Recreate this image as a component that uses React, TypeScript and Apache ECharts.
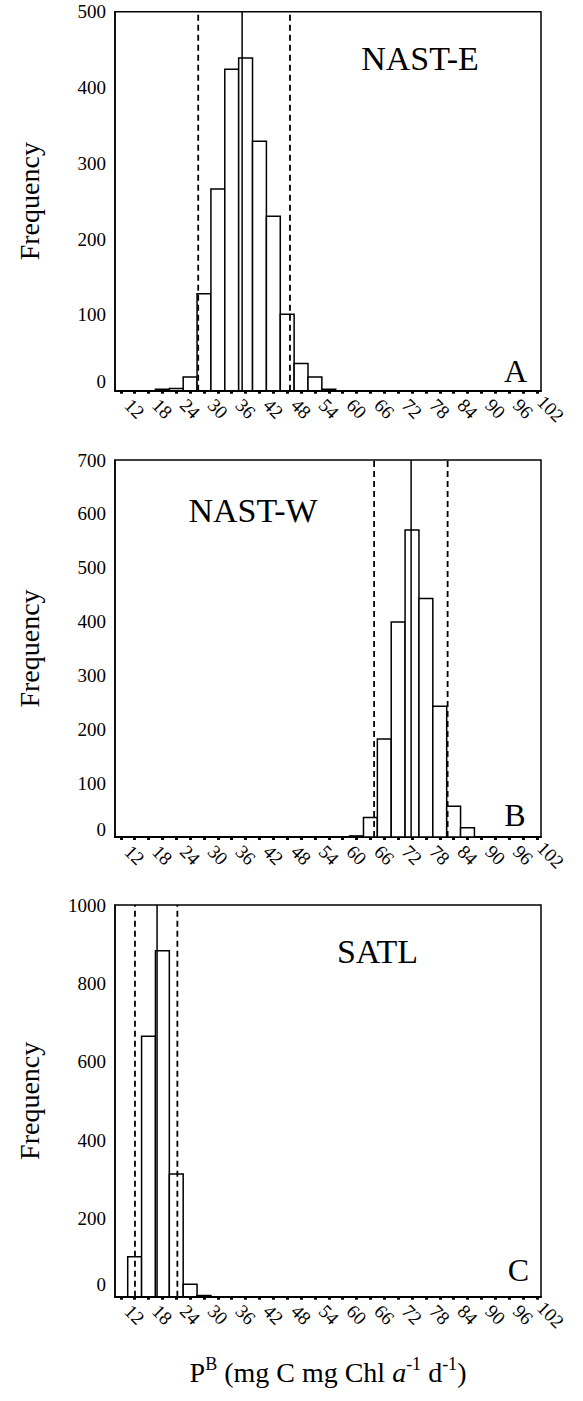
import React, { useEffect, useRef } from 'react';
import * as echarts from 'echarts';

const FONT = 'Liberation Serif';

// ---- shared x axis (bin centres, bins 3 units wide) ----
const BIN_WIDTH = 3;
const X_TICKS = [9, 12, 15, 18, 21, 24, 27, 30, 33, 36, 39, 42, 45, 48, 51, 54, 57, 60, 63, 66, 69, 72, 75, 78, 81, 84, 87, 90, 93, 96, 99];
const X_LABELS = [12, 18, 24, 30, 36, 42, 48, 54, 60, 66, 72, 78, 84, 90, 96, 102];

// ---- Panel A : NAST-E ----
const A_BINS = [18, 21, 24, 27, 30, 33, 36, 39, 42, 45, 48, 51, 54];
const A_COUNTS = [2, 3, 18, 128, 266, 424, 439, 329, 230, 101, 36, 18, 2];
const A_MEAN = 35.25;
const A_LIMITS = [25.75, 45.6];
const A_YTICKS = [0, 100, 200, 300, 400, 500];

// ---- Panel B : NAST-W ----
const B_BINS = [60, 63, 66, 69, 72, 75, 78, 81, 84];
const B_COUNTS = [2, 36, 182, 399, 570, 443, 243, 57, 17];
const B_MEAN = 71.8;
const B_LIMITS = [63.8, 79.7];
const B_YTICKS = [0, 100, 200, 300, 400, 500, 600, 700];

// ---- Panel C : SATL ----
const C_BINS = [12, 15, 18, 21, 24, 27];
const C_COUNTS = [102, 665, 883, 313, 32, 3];
const C_MEAN = 16.85;
const C_LIMITS = [12.07, 21.24];
const C_YTICKS = [0, 200, 400, 600, 800, 1000];

// ---- layout ----
const X_MIN = 7.75;
const X_MAX = 99.9;
const LABEL_X_MAX = 104;
const LEFT = 115;
const WIDTH = 426;

export default function App() {
  const ref = useRef<HTMLDivElement>(null);

  useEffect(() => {
    document.body.style.margin = '0';
    const chart = echarts.init(ref.current!, undefined, { renderer: 'svg' });

    const panels = [
      { bins: A_BINS, counts: A_COUNTS, mean: A_MEAN, limits: A_LIMITS, yTicks: A_YTICKS, name: 'NAST-E', letter: 'A', top: 11.7, height: 379, zeroShift: 9, titlePos: [420, 58.5], letterPos: [515.5, 371] },
      { bins: B_BINS, counts: B_COUNTS, mean: B_MEAN, limits: B_LIMITS, yTicks: B_YTICKS, name: 'NAST-W', letter: 'B', top: 460, height: 377, zeroShift: 8, titlePos: [253, 510], letterPos: [515, 815] },
      { bins: C_BINS, counts: C_COUNTS, mean: C_MEAN, limits: C_LIMITS, yTicks: C_YTICKS, name: 'SATL', letter: 'C', top: 905, height: 391.7, zeroShift: 12, titlePos: [377.5, 951.5], letterPos: [518.5, 1270] },
    ];

    const grids: any[] = [];
    const xAxes: any[] = [];
    const yAxes: any[] = [];
    const series: any[] = [];
    const graphics: any[] = [];

    panels.forEach((p, i) => {
      const g = 2 * i;
      const gl = 2 * i + 1;
      const yMax = p.yTicks[p.yTicks.length - 1];
      const yStep = p.yTicks[1] - p.yTicks[0];
      const isLast = i === panels.length - 1;

      grids.push({
        left: LEFT, width: WIDTH, top: p.top, height: p.height,
        show: true, borderColor: '#000', borderWidth: 1.5, backgroundColor: 'transparent',
        containLabel: false, outerBoundsMode: 'none',
      });
      grids.push({
        left: LEFT, width: (WIDTH * (LABEL_X_MAX - X_MIN)) / (X_MAX - X_MIN), top: p.top, height: p.height,
        show: false, containLabel: false, outerBoundsMode: 'none',
      });

      xAxes.push({
        type: 'value', gridIndex: g, min: X_MIN, max: X_MAX,
        axisLine: { show: true, onZero: false, lineStyle: { color: '#000', width: 2 } },
        axisTick: { show: true, customValues: X_TICKS, length: 3, lineStyle: { color: '#000', width: 3 } },
        axisLabel: { show: false },
        splitLine: { show: false },
        ...(isLast
          ? {
              name: '{n|P}{s|B}{n| (mg C mg Chl }{i|a}{s|-1}{n| d}{s|-1}{n|)}',
              nameLocation: 'middle',
              nameGap: 58,
              nameMoveOverlap: false,
              nameTextStyle: {
                color: '#000', fontFamily: FONT, fontSize: 28,
                rich: {
                  n: { fontFamily: FONT, fontSize: 28, color: '#000', lineHeight: 32, verticalAlign: 'bottom' },
                  i: { fontFamily: FONT, fontSize: 28, color: '#000', fontStyle: 'italic', lineHeight: 32, verticalAlign: 'bottom' },
                  s: { fontFamily: FONT, fontSize: 18, color: '#000', lineHeight: 32, verticalAlign: 'top' },
                },
              },
            }
          : {}),
      });
      xAxes.push({
        type: 'value', gridIndex: gl, min: X_MIN, max: LABEL_X_MAX,
        axisLine: { show: false }, axisTick: { show: false }, splitLine: { show: false },
        axisLabel: {
          customValues: X_LABELS, rotate: -45, align: 'center', verticalAlign: 'middle',
          margin: 18, fontFamily: FONT, fontSize: 19, color: '#000',
          showMinLabel: true, showMaxLabel: true, hideOverlap: false,
        },
      });

      yAxes.push({
        type: 'value', gridIndex: g, min: 0, max: yMax, interval: yStep,
        axisLine: { show: true, lineStyle: { color: '#000', width: 1.5 } },
        axisTick: { show: false },
        splitLine: { show: false },
        axisLabel: {
          margin: 9, fontFamily: FONT, fontSize: 19, color: '#000',
          formatter: (v: number) => (v === 0 ? '{z|0}' : String(v)),
          rich: { z: { fontFamily: FONT, fontSize: 19, color: '#000', padding: [0, 0, 2 * p.zeroShift, 0] } },
        },
        name: 'Frequency', nameLocation: 'middle', nameGap: 72, nameMoveOverlap: false,
        nameTextStyle: { fontFamily: FONT, fontSize: 28, color: '#000' },
      });
      yAxes.push({ type: 'value', gridIndex: gl, min: 0, max: yMax, show: false });

      series.push({
        type: 'custom',
        xAxisIndex: g, yAxisIndex: g,
        data: p.bins.map((b, j) => [b, p.counts[j]]),
        encode: { x: 0, y: 1 },
        silent: true,
        renderItem: (_params: any, api: any) => {
          const x = api.value(0);
          const v = api.value(1);
          const p0 = api.coord([x - BIN_WIDTH / 2, 0]);
          const p1 = api.coord([x + BIN_WIDTH / 2, v]);
          return {
            type: 'rect',
            shape: { x: p0[0], y: p1[1], width: p1[0] - p0[0], height: p0[1] - p1[1] },
            style: { fill: '#fff', stroke: '#000', lineWidth: 1.5 },
          };
        },
      });

      const vline = (x: number, dashed: boolean) => ({
        type: 'line', xAxisIndex: g, yAxisIndex: g, silent: true,
        symbol: 'none',
        data: [[x, 0], [x, yMax]],
        lineStyle: { color: '#000', width: dashed ? 1.8 : 1.5, type: dashed ? [6, 4] : 'solid' },
        z: 5,
      });
      series.push(vline(p.limits[0], true));
      series.push(vline(p.limits[1], true));
      series.push(vline(p.mean, false));

      graphics.push({
        type: 'text', x: p.titlePos[0], y: p.titlePos[1], z: 10,
        style: { text: p.name, fontFamily: FONT, fontSize: 34, fill: '#000', align: 'center', verticalAlign: 'middle' },
      });
      graphics.push({
        type: 'text', x: p.letterPos[0], y: p.letterPos[1], z: 10,
        style: { text: p.letter, fontFamily: FONT, fontSize: 32, fill: '#000', align: 'center', verticalAlign: 'middle' },
      });
    });

    chart.setOption({
      animation: false,
      backgroundColor: '#fff',
      textStyle: { fontFamily: FONT, color: '#000' },
      grid: grids,
      xAxis: xAxes,
      yAxis: yAxes,
      series,
      graphic: graphics,
    });

    return () => chart.dispose();
  }, []);

  return <div ref={ref} style={{ width: 583, height: 1401 }} />;
}
